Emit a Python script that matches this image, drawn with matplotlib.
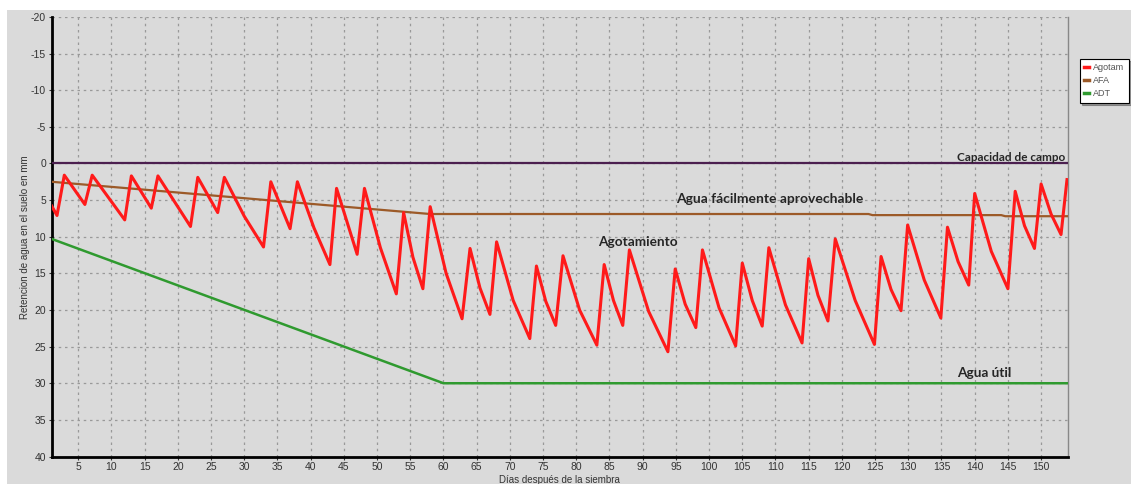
import numpy as np
import matplotlib
matplotlib.use('Agg')
import matplotlib.pyplot as plt
from matplotlib.patches import Rectangle

plt.rcParams['axes.unicode_minus'] = False

# curva de agotamiento (dia, mm), vertices
agotam_dia = [1.0, 1.8, 2.9, 6.0, 7.1, 12.0, 13.0, 16.0, 17.0, 21.9, 23.0, 26.0, 27.0, 30.0,
              32.9, 34.0, 36.9, 38.0, 40.5, 42.9, 43.9, 47.0, 48.1, 50.5, 52.9, 54.0, 55.4, 56.9, 58.0,
              60.4, 62.8, 64.0, 65.5, 67.0, 68.0, 70.5, 73.0, 74.0, 75.4, 76.9, 78.0, 80.5, 83.1,
              84.2, 85.6, 87.0, 88.0, 90.9, 93.8, 94.9, 96.4, 98.0, 99.0, 101.5, 104.0,
              105.0, 106.5, 108.0, 109.0, 111.5, 114.0, 115.0, 116.4, 117.9, 119.0, 122.0,
              124.9, 125.9, 127.4, 128.9, 129.9, 132.4, 134.9, 135.9, 137.5, 139.1, 140.0, 142.5,
              145.0, 146.1, 147.5, 149.0, 150.0, 151.5, 153.0, 153.9]
agotam_mm = [5.8, 7.1, 1.6, 5.6, 1.6, 7.7, 1.7, 6.1, 1.7, 8.6, 1.9, 6.7, 1.9, 7.2,
             11.4, 2.5, 8.9, 2.5, 8.8, 13.8, 3.4, 12.4, 3.4, 11.5, 17.8, 6.7, 12.8, 17.1, 5.9,
             15.0, 21.2, 11.6, 17.0, 20.6, 10.7, 18.7, 23.9, 14.0, 18.8, 22.1, 12.6, 20.0, 24.8,
             13.8, 18.7, 22.1, 11.8, 20.2, 25.7, 14.4, 19.2, 22.4, 11.8, 19.7, 24.9,
             13.6, 18.7, 22.2, 11.5, 19.3, 24.5, 13.0, 18.0, 21.5, 10.3, 18.7,
             24.7, 12.7, 17.2, 20.1, 8.4, 15.9, 21.1, 8.7, 13.4, 16.6, 4.1, 12.0,
             17.1, 3.8, 8.5, 11.6, 2.8, 6.9, 9.7, 2.2]

# agua facilmente aprovechable
afa_dia = [1, 58, 124, 124.6, 144, 144.6, 154]
afa_mm = [2.5, 6.9, 6.9, 7.05, 7.05, 7.2, 7.2]

# agua disponible total (agua util)
adt_dia = [1, 60, 154]
adt_mm = [10.3, 30.0, 30.0]

# capacidad de campo
cc_dia = [1, 154]
cc_mm = [0, 0]

x_ticks = list(range(5, 151, 5))
y_ticks = list(range(-20, 41, 5))

bg = '#dadada'

fig = plt.figure(figsize=(11.31, 4.84), dpi=100)
fig.patch.set_facecolor('white')
fig.patches.append(Rectangle((7 / 1131, 0), 1, 1 - 10 / 484, transform=fig.transFigure,
                             facecolor=bg, edgecolor='none', zorder=-10))

ax = fig.add_axes([0.0457, 0.0568, 0.944 - 0.0457, 0.965 - 0.0568])
ax.set_facecolor(bg)

ax.plot(cc_dia, cc_mm, color='#4b1f4f', lw=1.6, zorder=3)
ax.plot(afa_dia, afa_mm, color='#9c5a28', lw=1.6, zorder=3, label='AFA')
ax.plot(adt_dia, adt_mm, color='#2f9a2f', lw=1.8, zorder=3, label='ADT')
ax.plot(agotam_dia, agotam_mm, color='#ff1a1a', lw=2.2, zorder=4, label='Agotam')

ax.set_xlim(1, 154)
ax.set_ylim(40, -20)
ax.set_xticks(x_ticks)
ax.set_yticks(y_ticks)
ax.tick_params(labelsize=7.5, labelcolor='#333333', length=2, pad=2, colors='#333333')
for lab in ax.get_xticklabels() + ax.get_yticklabels():
    lab.set_family('Liberation Sans')

ax.grid(True, color='#999999', linestyle=(0, (2, 3)), linewidth=0.9)
ax.set_axisbelow(True)

ax.spines['left'].set_linewidth(2)
ax.spines['left'].set_color('black')
ax.spines['bottom'].set_linewidth(2)
ax.spines['bottom'].set_color('black')
ax.spines['top'].set_visible(False)
ax.spines['right'].set_color('#888888')
ax.spines['right'].set_linewidth(1)

ax.set_ylabel('Retencion de agua en el suelo en mm', fontsize=7, color='#333333',
              family='Liberation Sans', labelpad=1)
ax.set_xlabel('Días después de la siembra', fontsize=7, color='#333333',
              family='Liberation Sans', labelpad=2)

lbl = dict(fontweight='bold', color='#262626', family='Lato')
ax.text(153.6, -0.85, 'Capacidad de campo', ha='right', va='center', fontsize=8.5, **lbl)
ax.text(109.1, 4.9, 'Agua fácilmente aprovechable', ha='center', va='center', fontsize=10, **lbl)
ax.text(89.3, 10.7, 'Agotamiento', ha='center', va='center', fontsize=9.8, **lbl)
ax.text(141.5, 28.6, 'Agua útil', ha='center', va='center', fontsize=9.8, **lbl)

# leyenda en el orden del original
h, l = ax.get_legend_handles_labels()
order = [2, 0, 1]
leg = fig.legend([h[i] for i in order], [l[i] for i in order],
                 loc='upper left', bbox_to_anchor=(1075 / 1131, 1 - 54 / 484),
                 fontsize=6.5, handlelength=0.6, handletextpad=0.4,
                 borderpad=0.5, labelspacing=0.45, frameon=True, fancybox=False,
                 shadow=True, framealpha=1, edgecolor='black')
leg.get_frame().set_linewidth(0.8)
for t in leg.get_texts():
    t.set_color('#555555')
    t.set_family('Liberation Sans')
for line in leg.get_lines():
    line.set_linewidth(2.5)

plt.savefig('out.png', dpi=100)
plt.close()
